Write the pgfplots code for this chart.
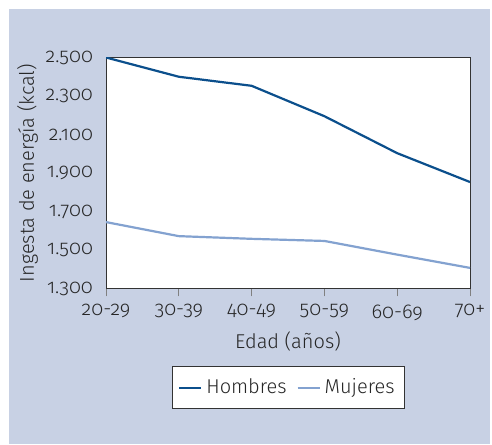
\documentclass[border=0pt]{standalone}
\usepackage{pgfplots}
\pgfplotsset{compat=1.18}
\usepackage{fontspec}
\setmainfont{Fira Sans Light}[Numbers=OldStyle]
\definecolor{bgc}{HTML}{C8D1E4}
\definecolor{hom}{HTML}{0B4F8C}
\definecolor{muj}{HTML}{83A2D0}
\definecolor{frm}{HTML}{333333}
\newcommand\fs{\fontsize{10pt}{12pt}\selectfont}
\begin{document}
\fs
\begin{tikzpicture}[x=1pt,y=1pt]
\fill[white] (0,0) rectangle (246,222);
\fill[bgc] (4.5,0) rectangle (245,217.5);
\begin{axis}[
  at={(53pt,77.75pt)}, anchor=south west,
  scale only axis, width=182pt, height=115.5pt,
  xmin=0, xmax=5, ymin=1300, ymax=2500,
  xtick=data,
  xticklabels={20-29,30-39,40-49,50-59,60-69,70+},
  ytick={1300,1500,...,2500},
  axis background/.style={fill=white},
  axis line style={frm, line width=0.5pt},
  tick style={gray, line width=0.5pt},
  xtick pos=bottom, ytick pos=left,
  tick align=outside,
  major tick length=4pt,
  ytick style={draw=none},
  /pgf/number format/assume math mode=true,
  yticklabel style={/pgf/number format/1000 sep={.}, xshift=1pt},
  ticklabel style={font=\fs, text=black!85},
  xticklabel style={yshift=-0.5pt},
  xlabel={Edad (años)},
  ylabel={Ingesta de energía (kcal)},
  label style={font=\fs, text=black!85},
  xlabel style={yshift=1pt},
  ylabel style={yshift=-3pt},
  legend columns=2,
  legend style={at={(0.5014,-0.43)}, anchor=center, draw=frm, line width=0.5pt, fill=white,
    font=\fs, text=black!85,
    /tikz/every even column/.append style={column sep=3pt},
    inner xsep=3pt, inner ysep=4pt},
  legend image code/.code={\draw[#1, line width=1pt] (0pt,0pt) -- (11pt,0pt);},
]
\addplot[hom, line width=1.1pt] coordinates {(0,2500) (1,2400) (2,2353) (3,2195) (4,2003) (5,1853)};
\addlegendentry{Hombres}
\addplot[muj, line width=1.1pt] coordinates {(0,1645) (1,1572) (2,1558) (3,1547) (4,1476) (5,1407)};
\addlegendentry{Mujeres}
\end{axis}
\end{tikzpicture}
\end{document}
